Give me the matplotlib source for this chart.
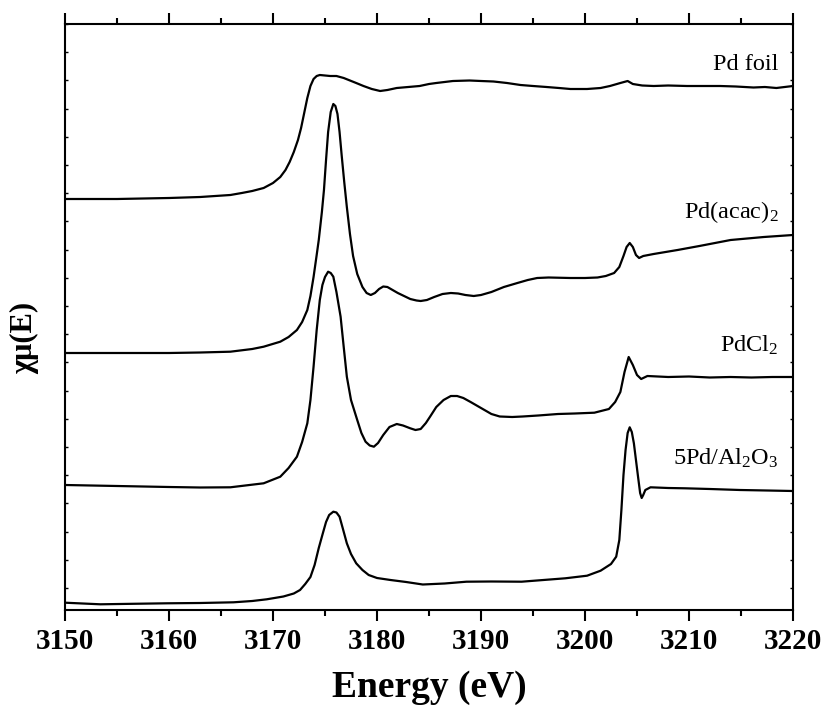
import matplotlib
matplotlib.use("Agg")
import matplotlib.pyplot as plt
from matplotlib.ticker import MultipleLocator, FixedLocator

plt.rcParams['font.family'] = ['Liberation Serif', 'DejaVu Serif']
plt.rcParams['mathtext.fontset'] = 'custom'
plt.rcParams['mathtext.rm'] = 'Liberation Serif'
plt.rcParams['mathtext.it'] = 'Liberation Serif:italic'
plt.rcParams['mathtext.bf'] = 'Liberation Serif:bold'

# ---- data (energy in eV, normalized intensity with vertical offsets, a.u.) ----
foil_E = [3150, 3155, 3160, 3163, 3165.9, 3167, 3168, 3169.1, 3170, 3170.7, 3171.2, 3171.6, 3172, 3172.4,
          3172.7, 3173, 3173.3, 3173.6, 3173.9, 3174.2, 3174.5, 3175, 3175.5, 3176.1, 3176.8, 3177.4,
          3178, 3178.7, 3179.5, 3180.3, 3181, 3181.9, 3183, 3184.1, 3185, 3185.7, 3186.5, 3187.3, 3188.9,
          3190, 3191.2, 3192.5, 3193.8, 3195, 3196.3, 3197.5, 3198.6, 3200.2, 3201.5, 3202.4, 3203.4,
          3204.1, 3204.6, 3205.5, 3206.6, 3208, 3209.8, 3211.5, 3213, 3214.5, 3216.2, 3217.3, 3218.4, 3220]
foil_y = [4.11, 4.11, 4.12, 4.13, 4.15, 4.17, 4.19, 4.22, 4.27, 4.33, 4.40, 4.48, 4.58, 4.70,
          4.82, 4.97, 5.12, 5.24, 5.31, 5.34, 5.35, 5.345, 5.34, 5.34, 5.32, 5.295,
          5.27, 5.24, 5.21, 5.19, 5.20, 5.22, 5.23, 5.24, 5.26, 5.27, 5.28, 5.29, 5.295,
          5.29, 5.285, 5.27, 5.25, 5.24, 5.23, 5.22, 5.21, 5.21, 5.22, 5.24, 5.27,
          5.29, 5.26, 5.245, 5.24, 5.245, 5.24, 5.24, 5.24, 5.235, 5.225, 5.23, 5.22, 5.24]

acac_E = [3150, 3155, 3160, 3163, 3165.9, 3168, 3169.1, 3170.7, 3171.5, 3172.3, 3172.8, 3173.3, 3173.6,
          3173.9, 3174.2, 3174.4, 3174.7, 3174.9, 3175.1, 3175.3, 3175.55, 3175.8, 3176.0, 3176.2,
          3176.4, 3176.6, 3176.85, 3177.1, 3177.4, 3177.7, 3178.1, 3178.6, 3179, 3179.4, 3179.8, 3180.2,
          3180.6, 3181, 3181.5, 3182, 3182.6, 3183.2, 3183.8, 3184.2, 3184.8, 3185.5, 3186.3, 3187.1,
          3187.8, 3188.5, 3189.3, 3190, 3191, 3192.2, 3193.5, 3194.5, 3195.4, 3196.5, 3198.6, 3200,
          3201.2, 3202, 3202.8, 3203.3, 3203.7, 3204.0, 3204.3, 3204.6, 3204.9, 3205.2, 3205.6, 3206.6,
          3208.9, 3211, 3214, 3217.2, 3220]
acac_y = [2.57, 2.57, 2.57, 2.575, 2.583, 2.61, 2.633, 2.683, 2.73, 2.80, 2.88, 3.00, 3.14,
          3.33, 3.55, 3.70, 3.98, 4.20, 4.50, 4.78, 4.98, 5.06, 5.04, 4.96,
          4.78, 4.55, 4.28, 4.03, 3.76, 3.54, 3.36, 3.23, 3.17, 3.15, 3.17, 3.21,
          3.235, 3.23, 3.20, 3.17, 3.14, 3.11, 3.095, 3.09, 3.10, 3.13, 3.16, 3.17,
          3.165, 3.15, 3.14, 3.15, 3.18, 3.23, 3.27, 3.30, 3.32, 3.325, 3.32, 3.32,
          3.325, 3.34, 3.37, 3.43, 3.54, 3.63, 3.67, 3.63, 3.55, 3.52, 3.54, 3.56,
          3.60, 3.64, 3.70, 3.73, 3.75]

pdcl_E = [3150, 3155, 3160, 3163, 3165.9, 3169.1, 3170.7, 3171.5, 3172.3, 3172.8, 3173.3, 3173.6, 3173.9,
          3174.2, 3174.5, 3174.75, 3175.0, 3175.3, 3175.55, 3175.8, 3176.1, 3176.5, 3176.8, 3177.1,
          3177.5, 3178.1, 3178.5, 3178.9, 3179.3, 3179.7, 3180.1, 3180.6, 3181.2, 3181.9, 3182.5, 3183.2,
          3183.7, 3184.2, 3184.7, 3185.1, 3185.7, 3186.4, 3187.1, 3187.7, 3188.3, 3189, 3190, 3191,
          3191.8, 3193, 3194, 3195.5, 3197.4, 3199, 3200.9, 3202.3, 3202.9, 3203.4, 3203.8, 3204.2,
          3204.6, 3205, 3205.4, 3206, 3208, 3210, 3212, 3214, 3216, 3218, 3220]
pdcl_y = [1.25, 1.24, 1.23, 1.225, 1.227, 1.267, 1.333, 1.42, 1.533, 1.68, 1.867, 2.10, 2.433,
          2.80, 3.10, 3.25, 3.33, 3.383, 3.37, 3.333, 3.18, 2.933, 2.63, 2.333,
          2.10, 1.90, 1.77, 1.683, 1.645, 1.633, 1.67, 1.75, 1.83, 1.86, 1.845, 1.817,
          1.80, 1.81, 1.87, 1.933, 2.03, 2.10, 2.14, 2.14, 2.12, 2.08, 2.02, 1.96,
          1.935, 1.93, 1.935, 1.945, 1.96, 1.965, 1.973, 2.01, 2.08, 2.18, 2.38, 2.53,
          2.45, 2.35, 2.31, 2.34, 2.33, 2.335, 2.325, 2.33, 2.325, 2.33, 2.33]

pdal_E = [3150, 3153.4, 3156.5, 3159.8, 3163, 3166.2, 3168, 3169.4, 3171, 3172, 3172.6, 3173.1, 3173.6,
          3174, 3174.4, 3174.8, 3175.1, 3175.4, 3175.8, 3176.1, 3176.4, 3176.7, 3177.1, 3177.5, 3178,
          3178.6, 3179.2, 3180, 3181.3, 3182.8, 3184.4, 3186.5, 3188.6, 3191, 3193.9, 3196, 3198.1,
          3200.2, 3201.5, 3202.5, 3203, 3203.3, 3203.5, 3203.7, 3203.9, 3204.1, 3204.3, 3204.5, 3204.7,
          3204.9, 3205.1, 3205.3, 3205.45, 3205.6, 3205.8, 3206.3, 3208, 3209.6, 3212, 3214.9, 3217.5, 3220]
pdal_y = [0.073, 0.057, 0.062, 0.067, 0.07, 0.077, 0.09, 0.107, 0.135, 0.165, 0.20, 0.26, 0.33,
          0.45, 0.62, 0.77, 0.88, 0.95, 0.983, 0.975, 0.933, 0.82, 0.667, 0.56, 0.467,
          0.40, 0.35, 0.32, 0.30, 0.28, 0.255, 0.265, 0.283, 0.285, 0.283, 0.30, 0.317,
          0.343, 0.393, 0.46, 0.533, 0.70, 1.00, 1.35, 1.60, 1.77, 1.827, 1.78, 1.667,
          1.50, 1.333, 1.17, 1.12, 1.15, 1.20, 1.227, 1.22, 1.217, 1.21, 1.20, 1.195, 1.19]

labels = ['Pd foil', r'Pd(acac)$_2$', r'PdCl$_2$', r'5Pd/Al$_2$O$_3$']
label_y = [5.40, 3.92, 2.58, 1.45]

x_ticks = [3150, 3160, 3170, 3180, 3190, 3200, 3210, 3220]

# ---- figure ----
fig = plt.figure(figsize=(8.24, 7.08), dpi=100)
ax = fig.add_axes([65/824, 1-610/708, (793-65)/824, (610-24)/708])

for E, y in [(foil_E, foil_y), (acac_E, acac_y), (pdcl_E, pdcl_y), (pdal_E, pdal_y)]:
    ax.plot(E, y, color='black', lw=1.6, solid_joinstyle='round')

for lab, ly in zip(labels, label_y):
    ax.text(3218.6, ly, lab, ha='right', va='baseline', fontsize=17.5)

ax.set_xlim(3150, 3220)
ax.set_ylim(0, 5.86)
ax.xaxis.set_major_locator(FixedLocator(x_ticks))
ax.xaxis.set_minor_locator(MultipleLocator(5))
ax.yaxis.set_major_locator(FixedLocator([0.22 + 0.282*k for k in range(21)]))
ax.set_yticklabels([])

ax.tick_params(axis='x', which='both', direction='out', top=True, bottom=True,
               labeltop=False, width=1.5)
ax.tick_params(axis='x', which='major', length=8)
ax.tick_params(axis='x', which='minor', length=4.5)
ax.tick_params(axis='y', which='major', direction='in', left=True, right=True,
               length=2.5, width=1.0)
ax.tick_params(axis='x', which='major', labelsize=21, pad=5)
for t in ax.get_xticklabels():
    t.set_fontweight('bold')

for s in ax.spines.values():
    s.set_linewidth(1.5)

ax.set_xlabel('Energy (eV)', fontsize=27, fontweight='bold', labelpad=11)
ax.set_ylabel('χμ(E)', fontsize=22, fontweight='bold')
ax.yaxis.set_label_coords(-0.036, 0.464)

fig.savefig('out.png', dpi=100)
